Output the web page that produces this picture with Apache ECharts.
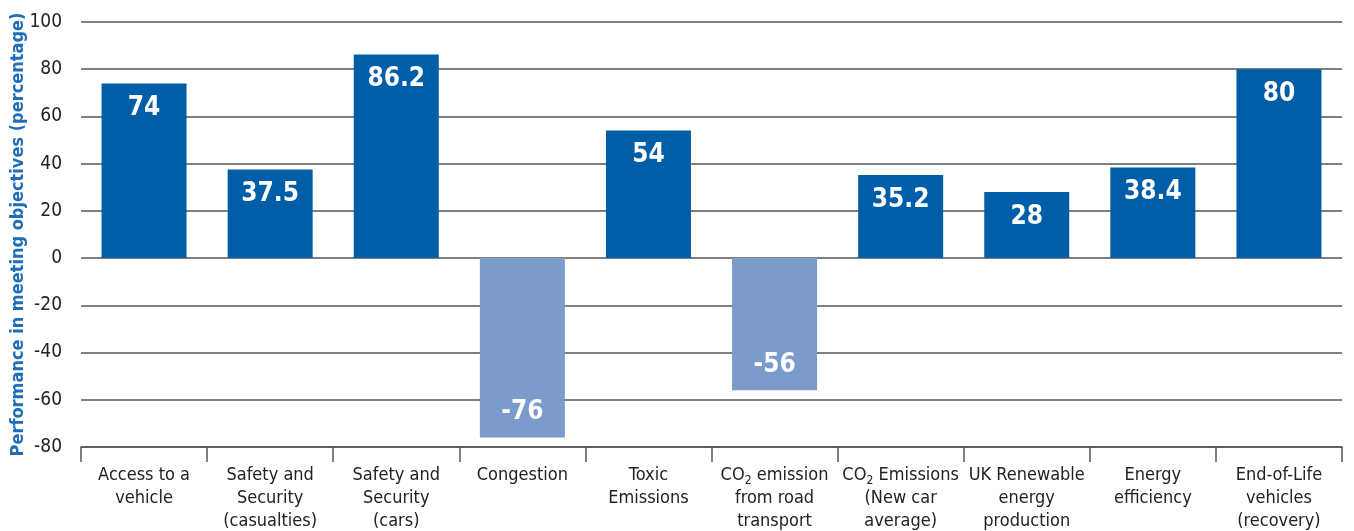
<!DOCTYPE html>
<html>
<head>
<meta charset="utf-8">
<script src="https://cdn.jsdelivr.net/npm/echarts@6/dist/echarts.min.js"></script>
<style>
  html, body { margin: 0; padding: 0; background: #fff; }
  #chart { width: 1354px; height: 531px; }
</style>
</head>
<body>
<div id="chart"></div>
<script>
// Objective categories (rich-text markup gives CO2 its subscript)
const categories = [
  'Access to a\nvehicle',
  'Safety and\nSecurity\n(casualties)',
  'Safety and\nSecurity\n(cars)',
  'Congestion',
  'Toxic\nEmissions',
  'CO{sub|2} emission\nfrom road\ntransport',
  'CO{sub|2} Emissions\n(New car\naverage)',
  'UK Renewable\nenergy\nproduction',
  'Energy\nefficiency',
  'End-of-Life\nvehicles\n(recovery)'
];

// Performance in meeting each objective (percentage)
const performance = [74, 37.5, 86.2, -76, 54, -56, 35.2, 28, 38.4, 80];

// Value axis range and step
const yMin = -80;
const yMax = 100;
const yStep = 20;

const FONT = "'DejaVu Sans Condensed', 'Liberation Sans Narrow', 'Arial Narrow', sans-serif";
const POS_COLOR = '#005EA8';
const NEG_COLOR = '#7B9BCB';

const chart = echarts.init(document.getElementById('chart'), null, { renderer: 'canvas' });

const barData = performance.map(v => ({
  value: v,
  itemStyle: { color: v < 0 ? NEG_COLOR : POS_COLOR },
  label: { position: v < 0 ? 'insideBottom' : 'insideTop' }
}));

chart.setOption({
  animation: false,
  backgroundColor: '#ffffff',
  grid: { left: 81, right: 12, top: 22, bottom: 84, containLabel: false, outerBoundsMode: 'none' },
  xAxis: {
    type: 'category',
    data: categories,
    axisLine: { onZero: false, lineStyle: { color: '#555', width: 1.5 } },
    axisTick: { show: true, length: 15, lineStyle: { color: '#555', width: 1.5 } },
    axisLabel: {
      interval: 0,
      margin: 17,
      color: '#222',
      fontFamily: FONT,
      fontSize: 18,
      lineHeight: 23,
      align: 'center',
      rich: {
        sub: { fontFamily: FONT, fontSize: 12, color: '#222', verticalAlign: 'bottom', padding: [8, 0, 0, 0] }
      }
    }
  },
  yAxis: {
    type: 'value',
    min: yMin,
    max: yMax,
    interval: yStep,
    name: 'Performance in meeting objectives (percentage)',
    nameLocation: 'middle',
    nameGap: 54,
    nameMoveOverlap: false,
    nameTextStyle: { color: '#1F6EB7', fontFamily: FONT, fontSize: 18, fontWeight: 'bold' },
    axisLine: { show: false },
    axisTick: { show: false },
    axisLabel: { color: '#222', fontFamily: FONT, fontSize: 19, margin: 19 },
    splitLine: { lineStyle: { color: '#555', width: 1.5 } }
  },
  series: [{
    type: 'bar',
    data: barData,
    barWidth: 85,
    label: {
      show: true,
      color: '#fff',
      fontFamily: FONT,
      fontSize: 26,
      fontWeight: 'bold',
      distance: 12
    }
  }]
});
</script>
</body>
</html>
